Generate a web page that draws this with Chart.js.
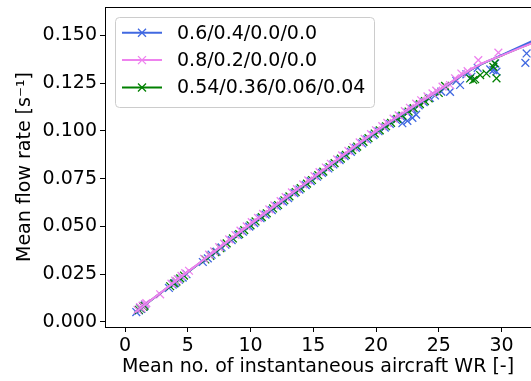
<!DOCTYPE html>
<html>
<head>
<meta charset="utf-8">
<script src="https://cdn.jsdelivr.net/npm/chart.js@4"></script>
<style>body{margin:0;background:#fff}</style>
</head>
<body>
<canvas id="chart" width="531" height="381"></canvas>
<script>
const seriesLabels = ['0.6/0.4/0.0/0.0', '0.8/0.2/0.0/0.0', '0.54/0.36/0.06/0.04'];
const seriesColors = ['#4169e1', '#ee82ee', '#008000'];

const blueX = [0.9,1.1,1.2,1.3,1.5,1.6,3.5,3.8,4.0,4.3,4.6,4.9,6.2,6.6,6.9,7.3,7.7,8.0,8.5,9.0,9.4,9.9,10.3,10.8,11.2,11.7,12.1,12.6,13.0,13.5,13.9,14.4,14.8,15.3,15.7,16.2,16.6,17.1,17.5,18.0,18.4,18.9,19.3,19.8,20.2,20.7,21.1,21.6,22.0,22.1,22.5,22.5,22.9,22.9,23.2,23.4,23.8,24.3,24.7,25.2,25.9,26.4,26.7,27.2,27.6,28.1,29.1,29.35,29.5,29.6,31.9,32.0];
const blueY = [0.0052,0.0060,0.0073,0.0068,0.0080,0.0092,0.0178,0.0196,0.0203,0.0221,0.0232,0.0250,0.0314,0.0333,0.0352,0.0368,0.0390,0.0404,0.0428,0.0455,0.0472,0.0499,0.0517,0.0543,0.0562,0.0585,0.0606,0.0630,0.0648,0.0674,0.0693,0.0716,0.0737,0.0760,0.0780,0.0803,0.0824,0.0847,0.0868,0.0890,0.0911,0.0934,0.0955,0.0978,0.0998,0.1017,0.1036,0.1057,0.1074,0.1040,0.1095,0.1052,0.1114,0.1068,0.1085,0.1133,0.1150,0.1172,0.1185,0.1205,0.1204,0.1262,0.1240,0.1296,0.1283,0.1330,0.1322,0.1318,0.1353,0.1310,0.1356,0.1405];

const pinkX = [1.0,1.2,1.3,1.4,1.6,1.7,2.8,3.7,4.0,4.2,4.5,4.8,5.1,6.3,6.7,7.1,7.5,7.9,8.3,8.8,9.2,9.7,10.1,10.6,11.0,11.5,11.9,12.4,12.8,13.3,13.7,14.2,14.6,15.1,15.5,16.0,16.4,16.9,17.3,17.8,18.2,18.7,19.1,19.6,20.0,20.5,20.9,21.4,21.8,22.3,22.7,23.2,23.6,24.1,24.5,24.8,25.3,25.9,26.3,26.8,27.3,28.15,29.75];
const pinkY = [0.0064,0.0078,0.0072,0.0086,0.0094,0.0099,0.0145,0.0201,0.0216,0.0224,0.0241,0.0256,0.0268,0.0331,0.0352,0.0369,0.0392,0.0410,0.0432,0.0455,0.0478,0.0500,0.0522,0.0545,0.0566,0.0589,0.0610,0.0632,0.0653,0.0678,0.0695,0.0720,0.0741,0.0763,0.0784,0.0808,0.0828,0.0851,0.0872,0.0895,0.0914,0.0940,0.0958,0.0983,0.1003,0.1025,0.1042,0.1064,0.1081,0.1103,0.1121,0.1142,0.1160,0.1180,0.1196,0.1210,0.1231,0.1240,0.1275,0.1300,0.1312,0.1370,0.1409];

const greenX = [1.1,1.25,1.45,1.55,3.6,3.9,4.1,4.4,4.7,6.4,6.8,7.2,7.6,8.1,8.6,9.1,9.5,10.0,10.4,10.9,11.3,11.8,12.2,12.7,13.1,13.6,14.0,14.5,14.9,15.4,15.8,16.3,16.7,17.2,17.6,18.1,18.5,19.0,19.4,19.9,20.3,20.8,21.2,21.7,22.1,22.6,23.0,23.5,23.9,24.2,25.0,25.5,27.5,27.75,27.9,28.3,28.8,29.35,29.45,29.6];
const greenY = [0.0063,0.0071,0.0080,0.0084,0.0187,0.0202,0.0211,0.0228,0.0243,0.0327,0.0346,0.0366,0.0386,0.0411,0.0437,0.0460,0.0481,0.0506,0.0526,0.0549,0.0569,0.0594,0.0612,0.0637,0.0657,0.0680,0.0700,0.0724,0.0743,0.0768,0.0787,0.0811,0.0831,0.0855,0.0874,0.0899,0.0918,0.0942,0.0962,0.0986,0.1003,0.1024,0.1042,0.1063,0.1080,0.1101,0.1119,0.1140,0.1156,0.1170,0.1198,0.1235,0.1274,0.1266,0.1270,0.1292,0.1300,0.1335,0.1353,0.1275];

// fitted curves
const fitX = [0.8, 5, 10, 15, 20, 25, 28, 30, 32.4];
const blueFitY = [0.0050, 0.0260, 0.0510, 0.0753, 0.0995, 0.1210, 0.1336, 0.1396, 0.1468];
const pinkFitY = [0.0050, 0.0262, 0.0512, 0.0755, 0.0997, 0.1212, 0.1338, 0.1394, 0.1458];
const greenFitY = [0.0050, 0.0260, 0.0510, 0.0753, 0.0995, 0.1210, 0.1336, 0.1394, 0.1460];

const xTicks = [0, 5, 10, 15, 20, 25, 30];
const yTicks = [0, 0.025, 0.05, 0.075, 0.1, 0.125, 0.15];
const yTickLabels = ['0.000', '0.025', '0.050', '0.075', '0.100', '0.125', '0.150'];

const FONT = 'DejaVu Sans';
const FS = 19;

const zip = (xs, ys) => xs.map((x, i) => ({ x: x, y: ys[i] }));

function pointSet(xs, ys, color, order) {
    return {
        type: 'scatter', data: zip(xs, ys), showLine: false,
        pointStyle: 'crossRot', pointRadius: 5.5, pointBorderWidth: 1.3,
        borderColor: color, backgroundColor: color, order: order
    };
}
function fitSet(ys, color, order) {
    return {
        type: 'line', data: zip(fitX, ys), borderColor: color, borderWidth: 2,
        pointRadius: 0, cubicInterpolationMode: 'monotone', fill: false, order: order
    };
}

// matplotlib style legend box inside the axes, plus the top spine
const extras = {
    id: 'extras',
    afterDraw(chart) {
        const ctx = chart.ctx, a = chart.chartArea;
        ctx.save();
        ctx.strokeStyle = '#000';
        ctx.lineWidth = 1;
        ctx.beginPath();
        ctx.moveTo(a.left, a.top + 0.5);
        ctx.lineTo(a.right, a.top + 0.5);
        ctx.stroke();

        ctx.fillStyle = 'rgba(255,255,255,0.8)';
        ctx.strokeStyle = '#cccccc';
        ctx.beginPath();
        ctx.roundRect(115.5, 17.5, 259, 90, 4);
        ctx.fill();
        ctx.stroke();

        ctx.font = FS + 'px "' + FONT + '"';
        ctx.textBaseline = 'middle';
        seriesLabels.forEach((lab, i) => {
            const y = 32.7 + i * 27.4;
            ctx.strokeStyle = seriesColors[i];
            ctx.lineWidth = 2;
            ctx.beginPath();
            ctx.moveTo(122, y);
            ctx.lineTo(162, y);
            ctx.stroke();
            ctx.lineWidth = 1.3;
            ctx.beginPath();
            ctx.moveTo(138, y - 4); ctx.lineTo(146, y + 4);
            ctx.moveTo(138, y + 4); ctx.lineTo(146, y - 4);
            ctx.stroke();
            ctx.fillStyle = '#000';
            ctx.fillText(lab, 177, y + 1);
        });
        ctx.restore();
    }
};

new Chart(document.getElementById('chart'), {
    data: {
        datasets: [
            fitSet(pinkFitY, seriesColors[1], 0),
            fitSet(blueFitY, seriesColors[0], 1),
            fitSet(greenFitY, seriesColors[2], 2),
            pointSet(pinkX, pinkY, seriesColors[1], 3),
            pointSet(greenX, greenY, seriesColors[2], 4),
            pointSet(blueX, blueY, seriesColors[0], 5)
        ]
    },
    options: {
        responsive: false,
        animation: false,
        devicePixelRatio: 1,
        layout: { autoPadding: false, padding: { left: 14, top: 7, right: 0, bottom: 3 } },
        plugins: { legend: { display: false }, tooltip: { enabled: false } },
        scales: {
            x: {
                type: 'linear', min: -1.594, max: 32.35,
                afterBuildTicks: s => { s.ticks = xTicks.map(v => ({ value: v })); },
                afterFit: s => { s.height = 51; s.paddingLeft = 0; s.paddingRight = 0; },
                ticks: { color: '#000', padding: 3, maxRotation: 0, font: { family: FONT, size: FS } },
                grid: { display: true, drawOnChartArea: false, drawTicks: true, tickLength: 5, tickWidth: 1, color: '#000' },
                border: { display: true, color: '#000', width: 1 },
                title: { display: true, text: 'Mean no. of instantaneous aircraft WR [-]', color: '#000',
                    padding: { top: 0, bottom: 0 }, font: { family: FONT, size: FS } }
            },
            y: {
                type: 'linear', min: -0.00262, max: 0.1648,
                afterBuildTicks: s => { s.ticks = yTicks.map(v => ({ value: v })); },
                afterFit: s => { s.width = 91; s.paddingTop = 0; s.paddingBottom = 0; },
                ticks: { color: '#000', padding: 3, font: { family: FONT, size: FS },
                    callback: (v, i) => yTickLabels[i] },
                grid: { display: true, drawOnChartArea: false, drawTicks: true, tickLength: 5, tickWidth: 1, color: '#000' },
                border: { display: true, color: '#000', width: 1 },
                title: { display: true, text: 'Mean flow rate [s⁻¹]', color: '#000',
                    padding: { top: 0, bottom: 0 }, font: { family: FONT, size: FS } }
            }
        }
    },
    plugins: [extras]
});
</script>
</body>
</html>
